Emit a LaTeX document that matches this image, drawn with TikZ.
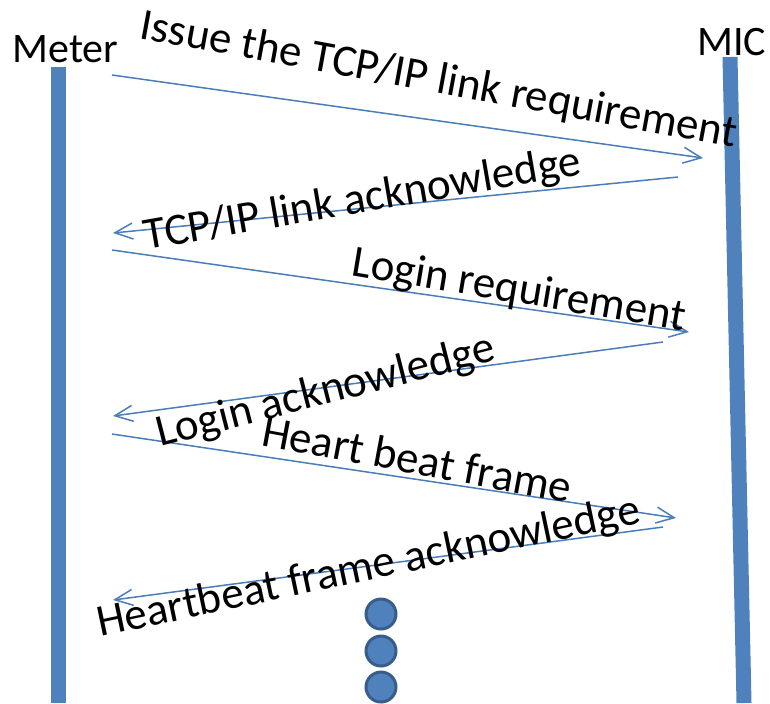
\documentclass[tikz,border=0pt]{standalone}
\usepackage{fontspec}
\setmainfont{Carlito}
\usetikzlibrary{arrows.meta}
\definecolor{lifeblue}{HTML}{4F81BD}
\definecolor{msgblue}{HTML}{4A7EBB}
\definecolor{dotrim}{HTML}{385D8A}
\begin{document}
\begin{tikzpicture}[x=0.5pt, y=-0.5pt,
                    lifeline/.style={lifeblue, line width=7.5pt},
                    msg/.style={msgblue, line width=0.75pt, -{Straight Barb[length=9pt, width=8pt]}},
                    who/.style={font=\fontsize{21}{25}\selectfont, inner sep=0pt, anchor=base west},
                    lbl/.style={font=\fontsize{22.5}{27}\selectfont, inner sep=0pt, anchor=base west},
                    moredot/.style={circle, fill=lifeblue, draw=dotrim, line width=1.5pt, minimum size=15pt, inner sep=0pt}]
  \useasboundingbox (0,0) rectangle (770,703);
  % lifelines
  \node[who] (meter) at (12,62) {Meter};
  \node[who] (mic) at (697,55) {MIC};
  \coordinate (mtop) at (58,67);
  \coordinate (mbot) at (58,703);
  \coordinate (ctop) at (730,57);
  \coordinate (cbot) at (744,703);
  \draw[lifeline] (mtop) -- (mbot);
  \draw[lifeline] (ctop) -- (cbot);
  % message ends
  \coordinate (m1) at (112,75);  \coordinate (c1) at (703,158);
  \coordinate (c2) at (678,177); \coordinate (m2) at (113,233);
  \coordinate (m3) at (112,250); \coordinate (c3) at (689,332);
  \coordinate (c4) at (663,342); \coordinate (m4) at (113,416);
  \coordinate (m5) at (112,434); \coordinate (c5) at (676,518);
  \coordinate (c6) at (663,527); \coordinate (m6) at (113,600);
  \draw[msg] (m1) -- (c1);
  \draw[msg] (c2) -- (m2);
  \draw[msg] (m3) -- (c3);
  \draw[msg] (c4) -- (m4);
  \draw[msg] (m5) -- (c5);
  \draw[msg] (c6) -- (m6);
  % message labels
  \node[lbl, rotate=-10.4] (linkreq) at (138,38) {Issue the TCP/IP link requirement};
  \node[lbl, rotate=9.8] (linkack) at (146,250) {TCP/IP link acknowledge};
  \node[lbl, rotate=-9.5] (loginreq) at (350,275) {Login requirement};
  \node[lbl, rotate=14.4] (loginack) at (160,447) {Login acknowledge};
  \node[lbl, rotate=-10.6] (beat) at (260,445) {Heart beat frame};
  \node[lbl, rotate=11.9] (beatack) at (100,637) {Heartbeat frame acknowledge};
  % and so on
  \node[moredot] (more1) at (381,614) {};
  \node[moredot] (more2) at (381,651) {};
  \node[moredot] (more3) at (381,687) {};
\end{tikzpicture}
\end{document}
